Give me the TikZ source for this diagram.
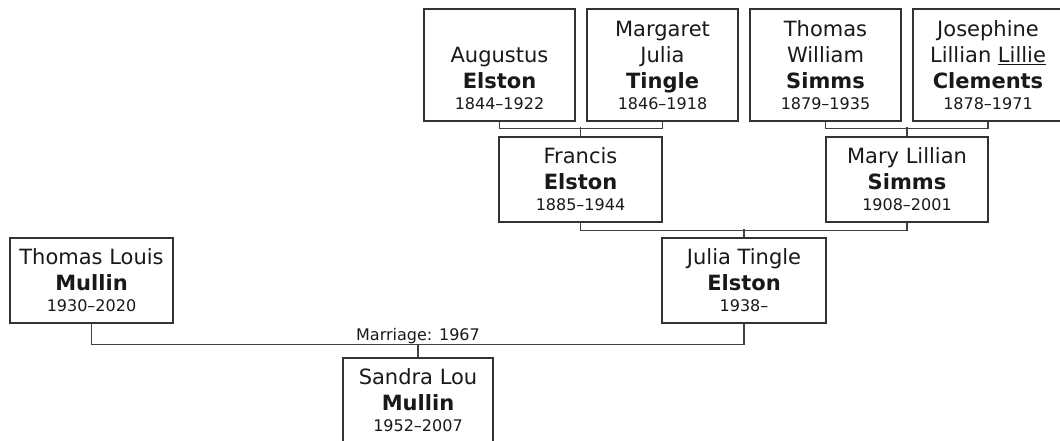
\documentclass[tikz,border=0pt]{standalone}
\usepackage{fontspec}
\setmainfont{DejaVu Sans}

\tikzset{
  person/.style={draw=black!80, line width=1.2pt, fill=white, inner sep=0pt,
    minimum height=85pt, align=center, text=black!90,
    font=\fontsize{21}{26}\selectfont},
  tallperson/.style={person, minimum height=112pt},
  link/.style={draw=black!75, line width=1.2pt}
}
\newcommand{\firstline}{\rule{0pt}{16pt}}
\newcommand{\lifespan}[1]{\\[-5pt]{\fontsize{16}{20}\selectfont #1}}

\begin{document}
\begin{tikzpicture}[x=1pt, y=-1pt]
  \useasboundingbox (0,0) rectangle (1060,441);

  % great-grandparents
  \node[tallperson, minimum width=151pt] (augustus) at (499.5,65)
    {\firstline\\Augustus\\\textbf{Elston}\lifespan{1844–1922}};
  \node[tallperson, minimum width=151pt] (margaret) at (662.5,65)
    {\firstline Margaret\\Julia\\\textbf{Tingle}\lifespan{1846–1918}};
  \node[tallperson, minimum width=151pt] (thomasw) at (825.5,65)
    {\firstline Thomas\\William\\\textbf{Simms}\lifespan{1879–1935}};
  \node[tallperson, minimum width=150pt] (josephine) at (988,65)
    {\firstline Josephine\\Lillian \underline{Lillie}\\\textbf{Clements}\lifespan{1878–1971}};

  % grandparents
  \node[person, minimum width=163pt] (francis) at (580.5,179.5)
    {\firstline Francis\\\textbf{Elston}\lifespan{1885–1944}};
  \node[person, minimum width=162pt] (mary) at (907,179.5)
    {\firstline Mary Lillian\\\textbf{Simms}\lifespan{1908–2001}};

  % parents
  \node[person, minimum width=163pt] (thomasl) at (91.5,280.5)
    {\firstline Thomas Louis\\\textbf{Mullin}\lifespan{1930–2020}};
  \node[person, minimum width=164pt] (julia) at (744,280.5)
    {\firstline Julia Tingle\\\textbf{Elston}\lifespan{1938–}};

  % child
  \node[person, minimum width=150pt] (sandra) at (418,400.5)
    {\firstline Sandra Lou\\\textbf{Mullin}\lifespan{1952–2007}};

  % family lines
  \draw[link] (augustus.south) -- ++(0,7) -| (margaret.south);
  \draw[link] (francis.north) -- ++(0,-9);
  \draw[link] (thomasw.south) -- ++(0,7) -| (josephine.south);
  \draw[link] (mary.north) -- ++(0,-9);
  \draw[link] (francis.south) -- ++(0,8) -| (mary.south);
  \draw[link] (julia.north) -- ++(0,-8);
  \draw[link] (thomasl.south) -- ++(0,21) coordinate (wedleft) -| (julia.south);
  \coordinate (wed) at (418,344);
  \draw[link] (wed) -- (sandra.north);
  \node[anchor=base, inner sep=0pt, text=black!90, font=\fontsize{16}{20}\selectfont]
    (marriage) at (418,340) {Marriage: 1967};
\end{tikzpicture}
\end{document}
